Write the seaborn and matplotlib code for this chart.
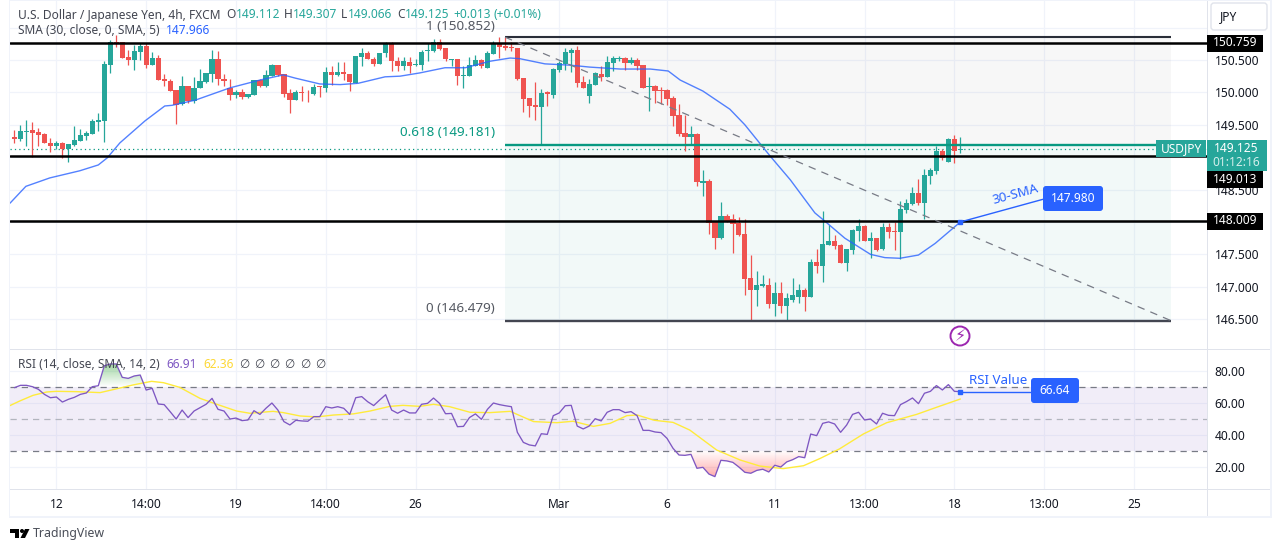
"""USD/JPY 4h chart with 30-SMA, fib levels and RSI pane."""
import matplotlib
matplotlib.use("Agg")
import matplotlib.pyplot as plt
import numpy as np
import pandas as pd
import seaborn as sns
from matplotlib.patches import Circle, FancyBboxPatch, Polygon, Rectangle

# candles, read bar by bar
opens = [
    149.31, 149.28, 149.39, 149.42, 149.39, 149.36, 149.22, 149.18, 149.22, 149.12,
    149.19, 149.25, 149.32, 149.36, 149.55, 149.56, 150.43, 150.78, 150.78, 150.54,
    150.50, 150.63, 150.71, 150.43, 150.53, 150.20, 150.18, 150.03, 149.82, 150.10,
    149.87, 150.06, 150.16, 150.29, 150.51, 150.21, 150.07, 149.96, 150.00, 149.93,
    149.96, 150.19, 150.10, 150.25, 150.42, 150.29, 149.99, 149.88, 150.00, 149.98,
    149.97, 150.10, 150.07, 150.31, 150.27, 150.31, 150.28, 150.15, 150.55, 150.60,
    150.52, 150.44, 150.60, 150.76, 150.48, 150.40, 150.47, 150.42, 150.42, 150.64,
    150.64, 150.77, 150.68, 150.50, 150.51, 150.25, 150.26, 150.41, 150.50, 150.38,
    150.59, 150.76, 150.71, 150.70, 150.68, 150.22, 149.92, 149.80, 149.78, 150.00,
    149.96, 150.34, 150.44, 150.61, 150.65, 150.16, 149.94, 150.11, 150.29, 150.24,
    150.46, 150.52, 150.53, 150.45, 150.50, 150.43, 150.08, 150.10, 150.04, 150.03,
    149.91, 149.65, 149.37, 149.31, 149.36, 148.60, 148.64, 148.00, 147.75, 148.10,
    148.04, 147.99, 147.81, 147.13, 146.95, 147.01, 147.02, 146.74, 146.90, 146.70,
    146.80, 146.85, 146.95, 146.85, 147.39, 147.32, 147.64, 147.70, 147.64, 147.37,
    147.57, 147.86, 147.94, 147.71, 147.75, 147.58, 147.92, 147.86, 147.85, 148.18,
    148.27, 148.44, 148.29, 148.71, 148.79, 149.09, 148.93, 149.28, 149.112,
]
highs = [
    149.42, 149.49, 149.57, 149.54, 149.45, 149.37, 149.29, 149.25, 149.23, 149.21,
    149.48, 149.43, 149.41, 149.59, 149.68, 150.48, 150.81, 150.88, 150.78, 150.65,
    150.73, 150.76, 150.76, 150.62, 150.58, 150.28, 150.21, 150.03, 150.25, 150.10,
    150.24, 150.36, 150.30, 150.65, 150.64, 150.28, 150.20, 150.03, 150.05, 149.97,
    150.19, 150.20, 150.34, 150.44, 150.43, 150.29, 150.05, 150.03, 150.10, 150.03,
    150.13, 150.10, 150.39, 150.40, 150.47, 150.47, 150.28, 150.56, 150.69, 150.64,
    150.55, 150.61, 150.77, 150.78, 150.55, 150.55, 150.55, 150.51, 150.65, 150.76,
    150.83, 150.82, 150.69, 150.52, 150.52, 150.40, 150.55, 150.58, 150.52, 150.64,
    150.80, 150.86, 150.85, 150.77, 150.68, 150.22, 149.92, 150.16, 150.05, 150.02,
    150.38, 150.49, 150.68, 150.68, 150.71, 150.25, 150.20, 150.32, 150.40, 150.56,
    150.56, 150.56, 150.54, 150.55, 150.53, 150.43, 150.23, 150.11, 150.09, 150.05,
    149.94, 149.82, 149.65, 149.48, 149.37, 148.80, 148.67, 148.00, 148.31, 148.13,
    148.12, 148.08, 148.04, 147.49, 147.25, 147.18, 147.13, 147.08, 147.08, 146.90,
    147.14, 147.05, 146.98, 147.43, 147.59, 148.17, 147.95, 147.80, 147.66, 147.58,
    147.89, 148.04, 147.96, 147.85, 147.76, 147.98, 147.98, 148.00, 148.32, 148.36,
    148.54, 148.66, 148.82, 148.84, 149.18, 149.12, 149.29, 149.34, 149.307,
]
lows = [
    149.22, 149.25, 149.18, 149.00, 149.18, 149.22, 149.08, 149.13, 148.99, 148.93,
    149.18, 149.25, 149.26, 149.36, 149.40, 149.23, 150.30, 150.70, 150.53, 150.42,
    150.34, 150.50, 150.37, 150.42, 150.19, 150.10, 150.02, 149.51, 149.80, 149.84,
    149.84, 150.06, 150.15, 150.16, 150.11, 150.10, 149.88, 149.92, 149.90, 149.92,
    149.96, 150.08, 150.09, 150.25, 150.25, 149.93, 149.68, 149.88, 149.87, 149.85,
    149.96, 149.93, 150.00, 150.12, 150.26, 150.19, 150.02, 150.14, 150.41, 150.51,
    150.40, 150.44, 150.54, 150.33, 150.33, 150.34, 150.30, 150.40, 150.35, 150.49,
    150.63, 150.66, 150.49, 150.41, 150.11, 150.07, 150.26, 150.41, 150.37, 150.37,
    150.59, 150.53, 150.65, 150.64, 150.19, 149.70, 149.62, 149.57, 149.20, 149.79,
    149.92, 150.31, 150.34, 150.32, 150.09, 150.06, 149.84, 150.11, 150.17, 150.23,
    150.33, 150.49, 150.35, 150.44, 150.35, 150.07, 149.72, 149.84, 149.82, 149.80,
    149.48, 149.33, 149.10, 149.20, 148.56, 148.40, 147.81, 147.58, 147.73, 148.00,
    147.52, 147.78, 146.87, 146.49, 146.70, 147.00, 146.67, 146.55, 146.60, 146.49,
    146.76, 146.75, 146.62, 146.85, 147.21, 147.07, 147.64, 147.59, 147.36, 147.25,
    147.51, 147.71, 147.70, 147.45, 147.55, 147.57, 147.76, 147.56, 147.43, 148.14,
    148.26, 148.26, 148.04, 148.58, 148.74, 148.95, 148.93, 148.91, 149.066,
]
closes = [
    149.28, 149.40, 149.41, 149.38, 149.34, 149.22, 149.17, 149.22, 149.12, 149.20,
    149.26, 149.34, 149.37, 149.56, 149.57, 150.44, 150.78, 150.76, 150.53, 150.50,
    150.64, 150.71, 150.43, 150.53, 150.19, 150.17, 150.02, 149.81, 150.10, 149.87,
    150.07, 150.17, 150.30, 150.51, 150.20, 150.17, 149.96, 150.00, 149.93, 149.97,
    150.19, 150.10, 150.27, 150.42, 150.27, 149.97, 149.88, 150.00, 149.99, 149.97,
    150.09, 150.08, 150.31, 150.27, 150.31, 150.28, 150.16, 150.56, 150.61, 150.51,
    150.44, 150.60, 150.76, 150.48, 150.40, 150.48, 150.41, 150.44, 150.63, 150.66,
    150.78, 150.67, 150.51, 150.51, 150.26, 150.27, 150.42, 150.50, 150.40, 150.61,
    150.76, 150.70, 150.69, 150.69, 150.20, 149.90, 149.79, 149.78, 149.99, 149.97,
    150.36, 150.45, 150.62, 150.65, 150.15, 150.06, 150.13, 150.30, 150.23, 150.47,
    150.53, 150.53, 150.46, 150.50, 150.41, 150.07, 150.09, 150.02, 150.02, 149.90,
    149.63, 149.35, 149.31, 149.36, 148.61, 148.64, 147.99, 147.75, 148.10, 148.02,
    147.97, 147.80, 147.12, 146.95, 147.02, 147.05, 146.74, 146.90, 146.70, 146.82,
    146.87, 146.95, 146.85, 147.39, 147.32, 147.66, 147.70, 147.63, 147.37, 147.58,
    147.87, 147.94, 147.71, 147.75, 147.57, 147.92, 147.84, 147.84, 148.20, 148.29,
    148.44, 148.29, 148.72, 148.80, 149.09, 148.98, 149.28, 149.09, 149.125,
]

# 30-SMA, vertices
sma_bars = [
    -0.75, 1.9, 5.9, 10.9, 14.0, 15.5, 17.6, 21.8, 25.1, 26.3, 30.2, 36.0, 41.0, 44.9, 46.9,
    51.0, 54.4, 57.4, 61.9, 64.4, 67.7, 71.9, 75.3, 79.4, 82.8, 84.4, 88.6, 92.8, 96.1,
    101.2, 106.2, 109.2, 111.2, 115.0, 119.5, 122.0, 126.2, 129.6, 133.7, 135.4, 138.7,
    143.0, 145.4, 147.9, 151.0, 153.8, 158.0,
]
sma_values = [
    148.29, 148.55, 148.68, 148.79, 148.88, 148.99, 149.22, 149.56, 149.79, 149.80, 149.88,
    150.07, 150.19, 150.27, 150.22, 150.13, 150.12, 150.14, 150.24, 150.25, 150.30, 150.38,
    150.38, 150.48, 150.53, 150.52, 150.44, 150.42, 150.39, 150.36, 150.36, 150.33, 150.19,
    150.02, 149.74, 149.50, 149.02, 148.65, 148.14, 148.01, 147.75, 147.50, 147.45, 147.44,
    147.49, 147.67, 148.00,
]

# RSI per bar
rsi_values = [
    69.4, 70.85, 70.85, 70.0, 68.35, 65.2, 63.1, 63.56, 60.4, 62.1,
    63.35, 65.2, 66.06, 70.0, 70.6, 83.1, 84.2, 84.2, 75.85, 75.2,
    76.7, 77.3, 67.9, 69.0, 59.2, 58.8, 54.4, 49.8, 55.4, 50.7,
    54.8, 56.9, 59.0, 62.7, 55.85, 54.8, 49.8, 50.4, 48.8, 49.2,
    55.0, 52.7, 56.5, 59.8, 55.4, 48.2, 46.1, 49.0, 48.6, 48.4,
    51.3, 51.3, 57.5, 56.7, 57.5, 56.5, 52.7, 63.1, 63.8, 60.6,
    58.2, 61.7, 65.0, 55.4, 53.4, 55.4, 53.6, 53.6, 59.0, 59.6,
    62.9, 59.6, 53.1, 53.3, 45.0, 45.2, 50.7, 53.0, 49.6, 55.85,
    59.8, 58.8, 58.1, 57.5, 41.5, 35.2, 33.6, 33.0, 40.6, 40.2,
    51.9, 53.6, 58.1, 58.35, 45.4, 43.6, 45.4, 50.0, 48.6, 54.0,
    55.65, 55.65, 53.8, 54.4, 51.9, 42.7, 42.7, 41.7, 41.3, 37.7,
    31.5, 27.3, 27.1, 27.7, 19.0, 19.6, 15.4, 13.8, 24.0, 23.6,
    22.7, 19.8, 16.5, 15.9, 17.7, 18.4, 16.7, 20.9, 19.8, 23.0,
    24.4, 26.3, 25.6, 40.4, 39.4, 47.1, 48.0, 46.7, 41.5, 46.0,
    52.7, 54.0, 49.2, 49.8, 46.7, 53.4, 52.1, 51.9, 58.8, 60.7,
    62.95, 59.4, 65.9, 67.1, 70.7, 67.95, 71.3, 67.1, 66.9,
]

# RSI moving average, vertices
rsi_ma_bars = [
    -0.75, 0.9, 3.1, 5.4, 7.0, 10.4, 14.3, 16.5, 19.8, 22.9, 24.9, 27.6, 31.0, 33.8, 37.1,
    39.3, 43.2, 44.9, 47.7, 50.5, 53.3, 56.6, 59.4, 62.7, 64.9, 67.7, 70.0, 72.7, 76.1,
    79.4, 82.8, 86.7, 90.6, 93.3, 96.7, 99.5, 102.3, 104.0, 106.9, 110.0, 112.8, 117.3,
    121.2, 124.5, 128.4, 131.8, 134.6, 137.8, 141.8, 145.7, 150.7, 154.0, 158.0,
]
rsi_ma_values = [
    58.2, 61.1, 64.6, 66.7, 67.1, 66.9, 66.3, 68.2, 71.1, 73.35, 72.5, 69.6, 62.7, 59.0, 54.8,
    53.4, 54.6, 53.8, 51.7, 51.1, 52.3, 53.0, 54.8, 57.7, 58.35, 57.7, 59.0, 57.5, 54.0,
    53.8, 54.6, 48.2, 47.5, 48.4, 45.2, 47.1, 51.9, 52.3, 49.0, 47.7, 42.9, 30.4,
    24.2, 20.4, 18.8, 20.6, 25.2, 31.1, 40.45, 47.5, 52.7, 57.1, 62.3,
]

# levels
support_levels = [150.759, 149.013, 148.009]
last_price = 149.125
fib_high = 150.852
fib_mid = 149.181
fib_low = 146.479
fib_start_bar = 81.95
fib_end_bar = 193.15
sma_note_bars = [158.0, 171.8]
sma_note_prices = [148.00, 148.35]
rsi_note_bars = [158.0, 170.0]
rsi_note_values = [66.9, 66.9]

# axes ticks
time_ticks = [7, 22, 37, 52, 67, 91, 109, 127, 142, 157, 172, 187]
time_labels = ["12", "14:00", "19", "14:00", "26", "Mar", "6", "11", "13:00", "18", "13:00", "25"]
price_ticks = [146.5, 147.0, 147.5, 148.0, 148.5, 149.0, 149.5, 150.0, 150.5, 151.0]
price_labels = ["146.500", "147.000", "147.500", "", "148.500", "", "149.500", "150.000", "150.500", ""]
rsi_ticks = [20, 40, 60, 80]
rsi_labels = ["20.00", "40.00", "60.00", "80.00"]

UP = "#26a69a"
DOWN = "#ef5350"
BLUE = "#2962ff"
TEAL = "#089981"
PURPLE = "#7e57c2"
YELLOW = "#ffeb3b"
GRID = "#f0f3fa"
BORDER = "#e0e3eb"
TEXT = "#131722"
LEGEND = "#434651"

W, H = 1275, 552
FS = 8.6

sns.set_theme(style="white")
plt.rcParams["font.family"] = ["Noto Sans", "DejaVu Sans"]

fig = plt.figure(figsize=(W / 100, H / 100), dpi=100)
ax_main = fig.add_axes([10 / W, 1 - 349 / H, 1197 / W, 348 / H])
ax_rsi = fig.add_axes([10 / W, 1 - 489 / H, 1197 / W, 140 / H])

candles = pd.DataFrame({"open": opens, "high": highs, "low": lows, "close": closes})
candles["bar"] = candles.index
candles["color"] = np.where(candles["close"] >= candles["open"], UP, DOWN)

# fib zones
ax_main.fill_between([fib_start_bar, fib_end_bar], fib_mid, fib_high, color="#787b86", alpha=0.06, lw=0, zorder=1)
ax_main.fill_between([fib_start_bar, fib_end_bar], fib_low, fib_mid, color=TEAL, alpha=0.05, lw=0, zorder=1)

# candles
ax_main.vlines(candles["bar"], candles["low"], candles["high"], colors=candles["color"], lw=0.9, zorder=3)
ax_main.bar(
    candles["bar"],
    (candles["close"] - candles["open"]).abs().clip(lower=0.012),
    bottom=candles[["open", "close"]].min(axis=1),
    width=0.88,
    color=candles["color"],
    lw=0,
    zorder=3,
)

sns.lineplot(x=sma_bars, y=sma_values, ax=ax_main, color=BLUE, lw=1.0, alpha=0.8, zorder=4, legend=False)

# drawings
ax_main.axhline(last_price, color=TEAL, lw=0.9, ls=(0, (1, 2.5)), zorder=2.5)
for level in support_levels:
    ax_main.axhline(level, color="black", lw=1.8, zorder=5)
ax_main.hlines(fib_high, fib_start_bar, fib_end_bar, color="#2a2e39", lw=1.5, zorder=5)
ax_main.hlines(fib_mid, fib_start_bar, fib_end_bar, color=TEAL, lw=1.7, zorder=5)
ax_main.hlines(fib_low, fib_start_bar, fib_end_bar, color="#434651", lw=1.7, zorder=5)
ax_main.plot([fib_start_bar, fib_end_bar], [fib_high, fib_low], color="#787b86", lw=0.9, ls=(0, (6, 5)), zorder=5)
ax_main.plot(sma_note_bars, sma_note_prices, color=BLUE, lw=1.0, zorder=6)
ax_main.plot(sma_note_bars[:1], sma_note_prices[:1], ls="", marker="s", ms=3.5, color=BLUE, zorder=6)

# RSI pane
ax_rsi.axhspan(30, 70, color=PURPLE, alpha=0.1, lw=0, zorder=1)
for level, shade in [(70, "#787b86"), (50, "#b2b5be"), (30, "#787b86")]:
    ax_rsi.axhline(level, color=shade, lw=0.9, ls=(0, (5, 4)), zorder=2)

rsi_bars = candles["bar"].to_numpy()
rsi_arr = np.array(rsi_values)


def gradient_fill(ax, y_edge, y_far, poly, rgb, alpha_far):
    """Fade a colour from y_edge to y_far, clipped to a fill_between polygon."""
    img = np.zeros((64, 2, 4))
    img[..., :3] = rgb
    img[..., 3] = np.linspace(0, alpha_far, 64)[:, None]
    im = ax.imshow(
        img,
        extent=[rsi_bars[0], rsi_bars[-1], y_edge, y_far],
        origin="lower",
        aspect="auto",
        zorder=2,
    )
    im.set_clip_path(poly.get_paths()[0], transform=ax.transData)
    poly.remove()


high_poly = ax_rsi.fill_between(rsi_bars, 70, np.maximum(rsi_arr, 70), lw=0)
gradient_fill(ax_rsi, 70, 85, high_poly, (0.30, 0.69, 0.31), 0.55)
low_poly = ax_rsi.fill_between(rsi_bars, 30, np.minimum(rsi_arr, 30), lw=0)
gradient_fill(ax_rsi, 30, 13, low_poly, (1.0, 0.32, 0.32), 0.5)

sns.lineplot(x=rsi_ma_bars, y=rsi_ma_values, ax=ax_rsi, color=YELLOW, lw=1.0, zorder=3, legend=False)
sns.lineplot(x=rsi_bars, y=rsi_values, ax=ax_rsi, color=PURPLE, lw=0.95, zorder=4, legend=False)
ax_rsi.plot(rsi_note_bars, rsi_note_values, color=BLUE, lw=1.0, zorder=5)
ax_rsi.plot(rsi_note_bars[:1], rsi_note_values[:1], ls="", marker="s", ms=3.5, color=BLUE, zorder=5)

# scales
for ax in (ax_main, ax_rsi):
    ax.set_xlim(-0.75, 199.2)
    ax.set_xticks(time_ticks)
    ax.grid(True, color=GRID, lw=0.9)
    ax.set_axisbelow(True)
    ax.yaxis.tick_right()
    ax.set_xlabel("")
    ax.set_ylabel("")
    ax.tick_params(length=0, labelcolor=TEXT, labelsize=FS)
    for spine in ax.spines.values():
        spine.set_visible(False)

ax_main.set_ylim(146.04, 151.41)
ax_main.set_yticks(price_ticks, price_labels)
ax_main.tick_params(axis="y", pad=5.5)
ax_main.set_xticklabels([])

ax_rsi.set_ylim(6.06, 93.56)
ax_rsi.set_yticks(rsi_ticks, rsi_labels)
ax_rsi.tick_params(axis="y", pad=5.5)
ax_rsi.set_xticks(time_ticks, time_labels)
ax_rsi.tick_params(axis="x", pad=6.5)

# pixel overlay for chart furniture
ax_px = fig.add_axes([0, 0, 1, 1], facecolor="none", zorder=10)
ax_px.set_xlim(0, W)
ax_px.set_ylim(H, 0)
ax_px.set_axis_off()


def price_y(ax, value):
    """Pixel row, from the top, of a value on a pane's own scale."""
    return H - ax.transData.transform((0, value))[1]


def box(x, y, w, h, color, **kwargs):
    ax_px.add_patch(Rectangle((x, y), w, h, fc=color, ec="none", **kwargs))


def pill(x, y, w, h, label):
    ax_px.add_patch(FancyBboxPatch((x + 3, y + 3), w - 6, h - 6, boxstyle="round,pad=3", fc=BLUE, ec="none"))
    ax_px.text(x + w / 2, y + h / 2, label, color="white", fontsize=FS, ha="center", va="center")


# frame
box(8.5, 0, 1.5, 518, GRID)
box(8.5, 516, 1263, 2, GRID)
box(1270, 0, 1.5, 518, GRID)
box(8.5, 0, 1263, 1, GRID)
box(1207, 1, 1, 515, BORDER)
box(10, 348.5, 1260, 1, BORDER)
box(10, 488.5, 1260, 1, BORDER)

# last price tags
y_last = price_y(ax_main, last_price)
box(1207, y_last - 9, 60, 31, UP)
ax_px.text(1236, y_last - 0.5, f"{last_price:.3f}", color="white", fontsize=FS, ha="center", va="center")
ax_px.text(1236, y_last + 13.5, "01:12:16", color="#d5efec", fontsize=FS, ha="center", va="center")
box(1156, y_last - 9, 50, 17, UP)
ax_px.text(1181, y_last - 0.5, "USDJPY", color="white", fontsize=FS, ha="center", va="center")

# level tags; the middle one sits below the last price tag
for level, y in zip(support_levels, [price_y(ax_main, support_levels[0]), y_last + 30.5, price_y(ax_main, support_levels[2])]):
    box(1207, y - 8.5, 56, 17, "black")
    ax_px.text(1235, y - 0.5, f"{level:.3f}", color="white", fontsize=FS, ha="center", va="center")

# JPY button
ax_px.add_patch(FancyBboxPatch((1214, 6), 50, 21, boxstyle="round,pad=3", fc="white", ec=BORDER, lw=1))
ax_px.text(1220, 17, "JPY", color=TEXT, fontsize=FS, ha="left", va="center")

# header
ax_px.text(18, 15, "U.S. Dollar / Japanese Yen, 4h, FXCM", color=LEGEND, fontsize=FS, va="center")
for x, label, color in [
    (226, "O", LEGEND), (236, "149.112", UP), (284, "H", LEGEND), (293, "149.307", UP),
    (341, "L", LEGEND), (348, "149.066", UP), (397, "C", LEGEND), (405, "149.125", UP),
    (453, "+0.013", UP), (494, "(+0.01%)", UP),
]:
    ax_px.text(x, 15, label, color=color, fontsize=FS, va="center")
ax_px.text(18, 31, "SMA (30, close, 0, SMA, 5)", color=LEGEND, fontsize=FS, va="center")
ax_px.text(166, 31, "147.966", color=BLUE, fontsize=FS, va="center")

# RSI legend
ax_px.text(18, 365, "RSI (14, close, SMA, 14, 2)", color=LEGEND, fontsize=FS, va="center")
ax_px.text(166, 365, "66.91", color=PURPLE, fontsize=FS, va="center")
ax_px.text(203, 365, "62.36", color="#fdd835", fontsize=FS, va="center")
for x in [244, 259, 274, 289, 305, 320]:
    ax_px.text(x, 365, "∅", color=LEGEND, fontsize=FS, ha="center", va="center")

# fib labels
ax_px.text(495, 26, "1 (150.852)", color="#555962", fontsize=9.7, ha="right", va="center")
ax_px.text(495, 133, "0.618 (149.181)", color=TEAL, fontsize=9.7, ha="right", va="center")
ax_px.text(495, 308, "0 (146.479)", color="#555962", fontsize=9.7, ha="right", va="center")

# notes
pill(1043, 186, 60, 25, "147.980")
ax_px.text(1015, 195, "30-SMA", color=BLUE, fontsize=FS + 1, rotation=15, ha="center", va="center")
pill(1031, 378, 48, 25, "66.64")
ax_px.text(998.5, 380, "RSI Value", color=BLUE, fontsize=FS + 1, ha="center", va="center")

# event marker
ax_px.add_patch(Circle((960, 336), 9.5, fc="white", ec="#9c27b0", lw=1.4))
ax_px.text(960, 336, "⚡", color="#9c27b0", fontsize=11.5, family="DejaVu Sans", ha="center", va="center")

# branding
ax_px.add_patch(Polygon([(10, 529), (19, 529), (19, 538), (15, 538), (15, 533), (10, 533)], fc="black", ec="none"))
ax_px.add_patch(Circle((22, 531), 2, fc="black", ec="none"))
ax_px.add_patch(Polygon([(25, 529), (29.5, 529), (25, 538), (20.5, 538)], fc="black", ec="none"))
ax_px.text(33, 534, "TradingView", color="#4a4e58", fontsize=FS + 0.3, va="center")

fig.savefig("out.png", dpi=100)
